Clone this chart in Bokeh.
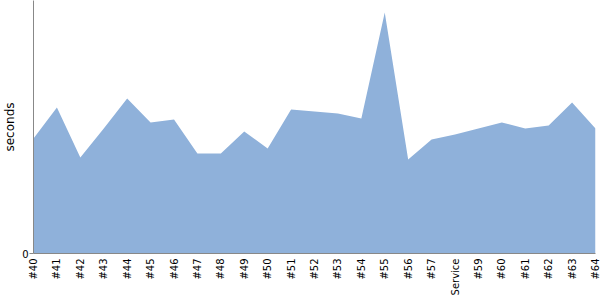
import math
from bokeh.plotting import figure
from bokeh.models import Range1d, FixedTicker
from bokeh.embed import file_html
from bokeh.resources import INLINE

categories = ["#40", "#41", "#42", "#43", "#44", "#45", "#46", "#47", "#48", "#49",
              "#50", "#51", "#52", "#53", "#54", "#55", "#56", "#57", "Service", "#59",
              "#60", "#61", "#62", "#63", "#64"]
seconds = [115, 146, 96, 125, 155, 131, 134, 100, 100, 122,
           105, 144, 142, 140, 135, 241, 94, 114, 119, 125,
           131, 125, 128, 151, 125]

xs = list(range(len(categories)))

p = figure(width=600, height=300, output_backend="svg", toolbar_location=None,
           x_range=Range1d(0, len(categories) - 1), y_range=Range1d(0, 253),
           min_border_left=33, min_border_right=5, min_border_top=0, min_border_bottom=47)
p.varea(x=xs, y1=[0] * len(xs), y2=seconds, fill_color="#8FB1DA", fill_alpha=1.0)

p.grid.visible = False
p.outline_line_color = None
p.background_fill_color = "white"
p.border_fill_color = "white"

p.xaxis.ticker = FixedTicker(ticks=xs)
p.xaxis.major_label_overrides = {i: c for i, c in enumerate(categories)}
p.xaxis.major_label_orientation = math.pi / 2
p.xaxis.major_tick_line_color = None
p.xaxis.minor_tick_line_color = None
p.xaxis.major_tick_out = 0
p.xaxis.major_label_standoff = 5
p.xaxis.axis_line_color = "#888888"
p.xaxis.major_label_text_font = "DejaVu Sans"
p.xaxis.major_label_text_font_size = "10px"
p.xaxis.major_label_text_color = "black"

p.yaxis.ticker = FixedTicker(ticks=[0])
p.yaxis.minor_tick_line_color = None
p.yaxis.major_tick_line_color = "#888888"
p.yaxis.major_tick_out = 4
p.yaxis.major_tick_in = 0
p.yaxis.axis_line_color = "#888888"
p.yaxis.major_label_text_font = "DejaVu Sans"
p.yaxis.major_label_text_font_size = "10px"
p.yaxis.major_label_text_color = "black"
p.yaxis.major_label_standoff = 1
p.yaxis.axis_label = "seconds"
p.yaxis.axis_label_text_font = "DejaVu Sans"
p.yaxis.axis_label_text_font_size = "12px"
p.yaxis.axis_label_text_font_style = "normal"
p.yaxis.axis_label_text_color = "black"
p.yaxis.axis_label_standoff = 2

open("out.html", "w").write(file_html(p, INLINE))
